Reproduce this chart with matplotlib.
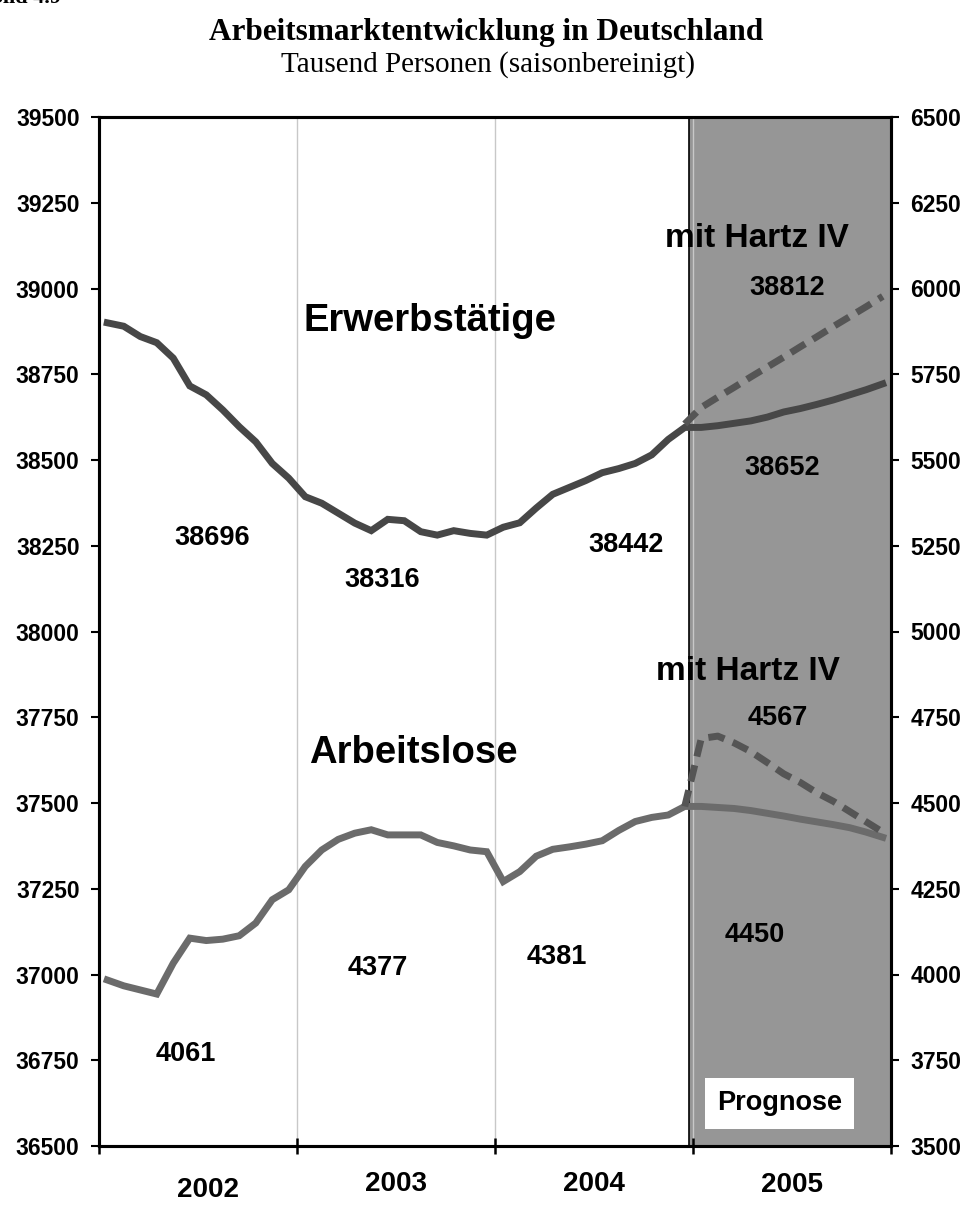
import numpy as np
import matplotlib
matplotlib.use("Agg")
import matplotlib.pyplot as plt
from matplotlib.transforms import blended_transform_factory

# ---------------- data ----------------
jahre = ["2002", "2003", "2004", "2005"]
monat = np.arange(1, 49)  # Jan 2002 .. Dez 2005

erwerbstaetige = [38900, 38890, 38860, 38842, 38797, 38716, 38690, 38646, 38597, 38553, 38490, 38447,
                  38393, 38374, 38345, 38316, 38294, 38327, 38323, 38291, 38281, 38294, 38286, 38281,
                  38304, 38317, 38360, 38400, 38420, 38440, 38463, 38475, 38490, 38515, 38560, 38595,
                  38595, 38600, 38607, 38614, 38625, 38640, 38650, 38662, 38675, 38690, 38705, 38722]
erwerb_hartz_monat = np.arange(36, 49)  # Dez 2004 .. Dez 2005
erwerb_hartz = [38605, 38653, 38683, 38712, 38742, 38771, 38800, 38830, 38859, 38889, 38918, 38947, 38977]

arbeitslose = [3984, 3967, 3955, 3943, 4033, 4106, 4099, 4103, 4113, 4150, 4218, 4247,
               4315, 4363, 4394, 4412, 4422, 4407, 4407, 4407, 4385, 4375, 4363, 4358,
               4271, 4300, 4345, 4365, 4372, 4380, 4390, 4420, 4446, 4458, 4465, 4490,
               4490, 4487, 4484, 4478, 4470, 4462, 4453, 4445, 4437, 4428, 4415, 4400]
alo_hartz_monat = np.arange(36, 49)
alo_hartz = [4490, 4688, 4695, 4675, 4650, 4618, 4585, 4560, 4530, 4505, 4475, 4445, 4415]

mittel_erwerb = ["38696", "38316", "38442", "38652"]
mittel_erwerb_hartz = "38812"
mittel_alo = ["4061", "4377", "4381", "4450"]
mittel_alo_hartz = "4567"

links_ticks = list(range(36500, 39501, 250))
rechts_ticks = list(range(3500, 6501, 250))

# ---------------- figure ----------------
W, H = 967, 1208
fig = plt.figure(figsize=(W / 100, H / 100), dpi=100)
sans = ["Liberation Sans", "DejaVu Sans"]
serif = ["Liberation Serif", "DejaVu Serif"]

ax = fig.add_axes([99 / W, 1 - 1146 / H, 792 / W, 1029 / H])
ax2 = ax.twinx()

ax.set_xlim(0, 48)
ax.set_ylim(36500, 39500)
ax2.set_ylim(3500, 6500)

# Prognose shading
ax.axvspan(35.75, 48, color="#969696", zorder=0, lw=0)
ax.axvline(35.75, color="black", lw=1.2, zorder=1)
for b in [12, 24, 36]:
    ax.axvline(b, color="#c8c8c8", lw=1.0, zorder=0.5)

x = monat - 0.5
lw = 5.0
ax.plot(x, erwerbstaetige, color="#474747", lw=lw, solid_joinstyle="miter", zorder=3)
ax.plot(erwerb_hartz_monat - 0.5, erwerb_hartz, color="#555555", lw=lw,
        linestyle=(0, (2.4, 1.3)), dash_capstyle="butt", zorder=3)
ax2.plot(x, arbeitslose, color="#6b6b6b", lw=lw, solid_joinstyle="miter", zorder=3)
ax2.plot(alo_hartz_monat - 0.5, alo_hartz, color="#555555", lw=lw,
         linestyle=(0, (2.4, 1.3)), dash_capstyle="butt", zorder=3)

# spines and ticks
for a in (ax, ax2):
    for s in a.spines.values():
        s.set_linewidth(2.2)
        s.set_color("black")

ax.set_yticks(links_ticks)
ax.set_yticklabels([str(t) for t in links_ticks])
ax2.set_yticks(rechts_ticks)
ax2.set_yticklabels([str(t) for t in rechts_ticks])
ax.tick_params(axis="y", direction="out", length=6, width=1.5, pad=8, labelsize=16.5)
ax2.tick_params(axis="y", direction="out", length=6, width=1.5, pad=8, labelsize=16.5)
ax.set_xticks([0, 12, 24, 36, 48])
ax.set_xticklabels([])
ax.tick_params(axis="x", direction="inout", length=12, width=1.8)
for lab in ax.get_yticklabels() + ax2.get_yticklabels():
    lab.set_fontweight("bold")
    lab.set_family(sans)

# year labels
tr = blended_transform_factory(ax.transData, ax.transAxes)
jahr_mitte = [6.6, 18, 30, 42]
jahr_y = [-0.043, -0.037, -0.037, -0.038]
for j, xm, yy in zip(jahre, jahr_mitte, jahr_y):
    ax.text(xm, yy, j, transform=tr, ha="center", va="center", fontsize=20,
            fontweight="bold", family=sans)

# series labels
big = dict(fontweight="bold", family=sans, ha="center", va="center", zorder=5)
ax.text(20.06, 38905, "Erwerbstätige", fontsize=27.5, **big)
ax.text(19.03, 37646, "Arbeitslose", fontsize=27.5, **big)
ax.text(39.9, 39147, "mit Hartz IV", fontsize=24, **big)
ax.text(39.35, 37882, "mit Hartz IV", fontsize=24, **big)

val = dict(fontweight="bold", family=sans, ha="center", va="center", fontsize=19.5, zorder=5)
pos_erwerb = [(6.85, 38273), (17.15, 38150), (31.94, 38252), (41.4, 38477)]
for t, (px, py) in zip(mittel_erwerb, pos_erwerb):
    ax.text(px, py, t, **val)
ax.text(41.7, 39001, mittel_erwerb_hartz, **val)
pos_alo = [(5.27, 36768), (16.9, 37019), (27.76, 37051), (39.76, 37115)]
for t, (px, py) in zip(mittel_alo, pos_alo):
    ax.text(px, py, t, **val)
ax.text(41.15, 37748, mittel_alo_hartz, **val)

ax.text(41.24, 36624, "Prognose", fontsize=19.5, fontweight="bold", family=sans,
        ha="center", va="center", zorder=6,
        bbox=dict(boxstyle="square,pad=0.46", facecolor="white", edgecolor="none"))

# titles
fig.text(486 / W, 1 - 40 / H, "Arbeitsmarktentwicklung in Deutschland", ha="center",
         va="baseline", fontsize=22.5, fontweight="bold", family=serif)
fig.text(488 / W, 1 - 72 / H, "Tausend Personen (saisonbereinigt)", ha="center",
         va="baseline", fontsize=21, family=serif)
fig.text(-12 / W, 1 + 2 / H, "Bild 4.9", ha="left", va="center", fontsize=16,
         fontweight="bold", family=serif)

fig.savefig("out.png", dpi=100, facecolor="white")
